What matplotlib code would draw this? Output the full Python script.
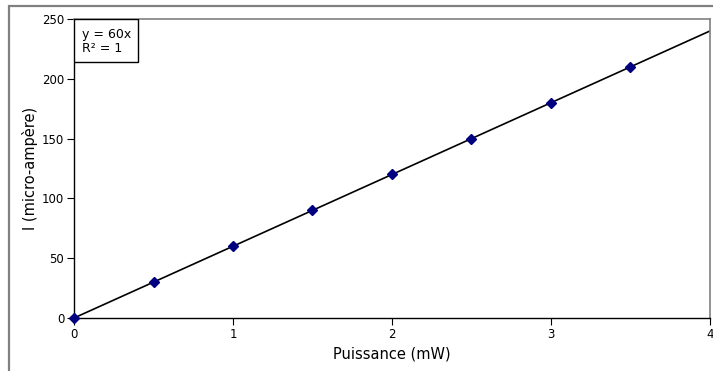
import matplotlib
matplotlib.use("Agg")
import matplotlib.pyplot as plt
from matplotlib.patches import Rectangle

# données de la courbe d'étalonnage
puissance = [0, 0.5, 1, 1.5, 2, 2.5, 3, 3.5]
courant = [0, 30, 60, 90, 120, 150, 180, 210]
pente = 60
x_trend = [0, 4]
x_ticks = [0, 1, 2, 3, 4]
y_ticks = [0, 50, 100, 150, 200, 250]

W, H = 713, 371
fig = plt.figure(figsize=(W/100, H/100), dpi=100)
ax = fig.add_axes([74/W, 53/H, 636/W, 299/H])

# cadre extérieur (gris), coupé à droite et en bas
fig.patches.append(Rectangle((8.5/W, -0.1), 1.0, 1.1 - 5.5/H,
                             transform=fig.transFigure, fill=False,
                             edgecolor="#808080", linewidth=1.6, zorder=0))

# droite de tendance y = 60x
ax.plot(x_trend, [pente*x for x in x_trend], color="black", linewidth=1.2, zorder=2)
ax.plot(puissance, courant, linestyle="none", marker="D", markersize=4.8,
        color="#000080", zorder=3, clip_on=False)

ax.set_xlim(0, 4)
ax.set_ylim(0, 250)
ax.set_xticks(x_ticks)
ax.set_yticks(y_ticks)
ax.tick_params(direction="out", length=5, width=0.8, labelsize=8.5, pad=2)

for s in ["top", "right"]:
    ax.spines[s].set_color("#808080")
    ax.spines[s].set_linewidth(1.2)
for s in ["left", "bottom"]:
    ax.spines[s].set_color("black")
    ax.spines[s].set_linewidth(1.0)

ax.set_xlabel("Puissance (mW)", fontsize=10.5, labelpad=4)
ax.set_ylabel("I (micro-ampère)", fontsize=10.5, labelpad=3)

# encadré de l'équation
ax.add_patch(Rectangle((0, 1 - 43/299), 64/636, 43/299, transform=ax.transAxes,
                       facecolor="white", edgecolor="black", linewidth=1.0, zorder=4))
ax.text(8/636, 1 - 15/299, "y = 60x", transform=ax.transAxes, fontsize=9,
        va="center", ha="left", zorder=5)
ax.text(8/636, 1 - 29/299, "R² = 1", transform=ax.transAxes, fontsize=9,
        va="center", ha="left", zorder=5)

fig.savefig("out.png", dpi=100)
